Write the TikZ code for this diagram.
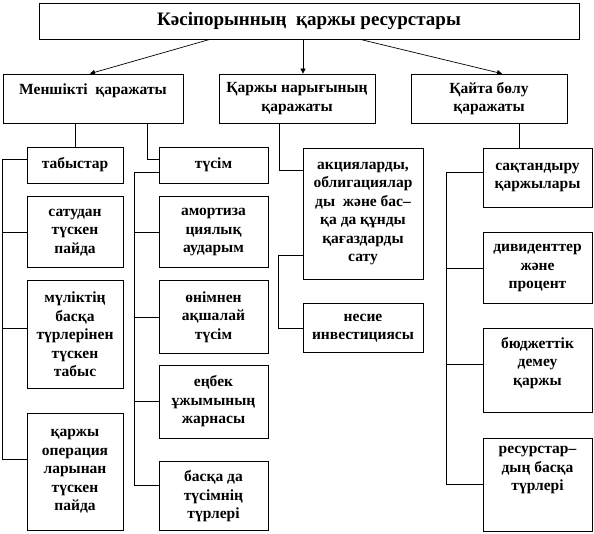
\documentclass[tikz,border=0pt]{standalone}
\usepackage{fontspec}
\setmainfont{Liberation Serif}
\usepackage{tikz}
\usetikzlibrary{arrows.meta, positioning}

\begin{document}
\begin{tikzpicture}[
  x=1pt, y=-1pt,
  font=\fontsize{15.5}{18.5}\selectfont\bfseries,
  box/.style={draw, line width=0.7pt, align=center, inner sep=0pt},
  head/.style={box, minimum height=49pt},
  cola/.style={box, minimum width=96pt},
  colb/.style={box, minimum width=109pt},
  colc/.style={box, minimum width=120pt},
  cold/.style={box, minimum width=109pt},
  line/.style={line width=0.7pt},
  arrow/.style={line, -{Triangle[length=5pt, width=5pt]}}
]
  \useasboundingbox (0,0) rectangle (594,534);

  \node[box, minimum width=540pt, minimum height=36pt, font=\fontsize{19}{22}\selectfont\bfseries] (title) at (309,21) {Кәсіпорынның\ \ қаржы ресурстары};
  \node[head, minimum width=180pt, text depth=18pt] (own) at (93,98.5) {Меншікті\ \ қаражаты};
  \node[head, minimum width=156pt] (mkt) at (297,98.5) {Қаржы нарығының\\қаражаты};
  \node[head, minimum width=156pt] (redist) at (489,98.5) {Қайта бөлу\\қаражаты};

  \node[cola, minimum height=36pt] (incA) at (75,165) {табыстар};
  \node[cola, minimum height=71pt, below=13pt of incA] (incB) {сатудан\\түскен\\пайда};
  \node[cola, minimum height=108pt, below=12pt of incB] (incC) {мүліктің\\басқа\\түрлерінен\\түскен\\табыс};
  \node[cola, minimum height=117pt, below=24pt of incC] (incD) {қаржы\\операция\\ларынан\\түскен\\пайда};

  \node[colb, minimum height=36pt] (revA) at (213.5,165) {түсім};
  \node[colb, minimum height=71pt, below=13pt of revA] (revB) {амортиза\\циялық\\аударым};
  \node[colb, minimum height=73pt, below=12pt of revB] (revC) {өнімнен\\ақшалай\\түсім};
  \node[colb, minimum height=73pt, below=11pt of revC] (revD) {еңбек\\ұжымының\\жарнасы};
  \node[colb, minimum height=69pt, below=23pt of revD] (revE) {басқа да\\түсімнің\\түрлері};

  \node[colc, minimum height=131pt] (mktA) at (363,213.5) {акцияларды,\\облигациялар\\ды\ \ және бас–\\қа да құнды\\қағаздарды\\сату};
  \node[colc, minimum height=49pt, below=24pt of mktA] (mktB) {несие\\инвестициясы};

  \node[cold, minimum height=59pt] (redA) at (537.5,177.5) {сақтандыру\\қаржылары};
  \node[cold, minimum height=71pt, below=25pt of redA] (redB) {дивиденттер\\және\\процент};
  \node[cold, minimum height=84pt, below=24pt of redB, text depth=18pt] (redC) {бюджеттік\\демеу\\қаржы};
  \node[cold, minimum height=93pt, below=25pt of redC, text depth=32pt] (redD) {ресурстар–\\дың басқа\\түрлері};

  \draw[arrow] ([xshift=-99pt]title.south) -- ([xshift=-3pt]own.north);
  \draw[arrow] ([xshift=6pt]mkt.north |- title.south) -- ([xshift=6pt]mkt.north);
  \draw[arrow] ([xshift=51pt]title.south) -- ([xshift=13pt]redist.north);

  \draw[line] (incA.north |- own.south) -- (incA.north);
  \draw[line] ([xshift=54pt]own.south) |- ([yshift=6pt]revA.west);
  \draw[line] ([xshift=-18pt]mkt.south) |- ([yshift=43.5pt]mktA.west);
  \draw[line] ([xshift=-18.5pt]redA.north |- redist.south) -- ([xshift=-18.5pt]redA.north);

  \draw[line] ([yshift=6pt]incA.west) -- ++(-24,0) |- ([yshift=12pt]incD.west);
  \draw[line] (incB.west) -- ++(-24,0);
  \draw[line] ([yshift=6pt]incC.west) -- ++(-24,0);

  \draw[line] ([yshift=-7pt]revA.west) -- ++(-24,0) |- ([yshift=11pt]revE.west);
  \draw[line] (revB.west) -- ++(-24,0);
  \draw[line] (revC.west) -- ++(-24,0);
  \draw[line] (revD.west) -- ++(-24,0);

  \draw[line] ([yshift=-41.5pt]mktA.west) -- ++(-24,0) |- (mktB.west);

  \draw[line] ([yshift=5.5pt]redA.west) -- ++(-36,0) |- (redD.west);
  \draw[line] (redB.west) -- ++(-36,0);
  \draw[line] ([yshift=6pt]redC.west) -- ++(-36,0);
\end{tikzpicture}
\end{document}
